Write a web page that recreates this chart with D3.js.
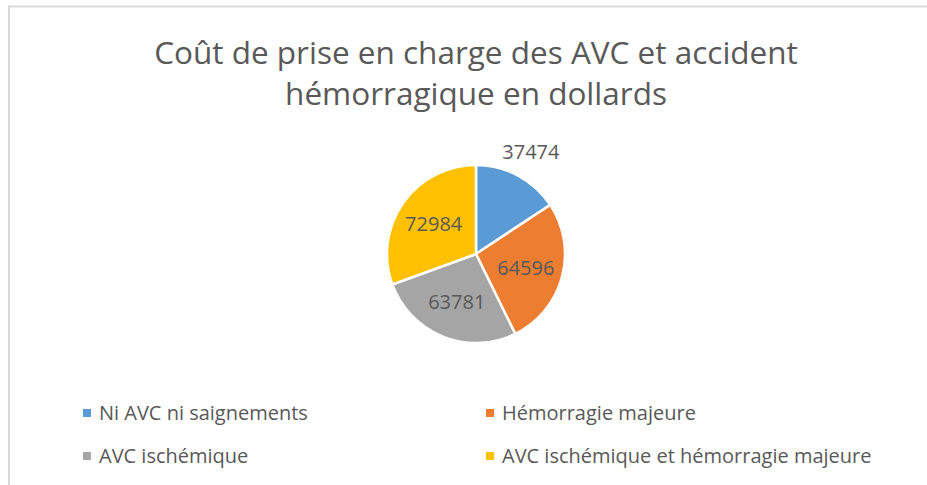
<!DOCTYPE html>
<html>
<head>
<meta charset="utf-8">
<script src="https://cdn.jsdelivr.net/npm/d3@7"></script>
<style>
  body { margin: 0; background: #fff; }
  text { font-family: "Open Sans", sans-serif; fill: #595959; }
</style>
</head>
<body>
<div id="chart"></div>
<script>
let w = 927;
let h = 485;

// data
let categories = ["Ni AVC ni saignements", "Hémorragie majeure", "AVC ischémique", "AVC ischémique et hémorragie majeure"];
let costs = [37474, 64596, 63781, 72984];
let colors = ["#5B9BD5", "#ED7D31", "#A5A5A5", "#FFC000"];
let titleLines = ["Coût de prise en charge des AVC et accident", "hémorragique en dollards"];

let svg = d3.select("#chart").append("svg")
  .attr("width", w)
  .attr("height", h);

// chart frame (only left and top edges show in the crop)
svg.append("path")
  .attr("d", "M9,485 V6.5 H927")
  .attr("fill", "none")
  .attr("stroke", "#d9d9d9")
  .attr("stroke-width", 2);

// title
svg.append("g").selectAll("text").data(titleLines).enter()
  .append("text")
    .attr("x", 476)
    .attr("y", (d, i) => 64 + i * 41)
    .attr("text-anchor", "middle")
    .attr("font-size", "31.5px")
    .text(d => d);

// pie
let cx = 476, cy = 254, r = 89;
let pie = d3.pie().sort(null).value(d => d);
let arcs = pie(costs);
let arc = d3.arc().innerRadius(0).outerRadius(r);
let labelArc = d3.arc().innerRadius(r * 0.58).outerRadius(r * 0.58);
let outerArc = d3.arc().innerRadius(r + 27).outerRadius(r + 27);

let pieGroup = svg.append("g").attr("transform", "translate(" + cx + "," + cy + ")");

pieGroup.selectAll("path").data(arcs).enter()
  .append("path")
    .attr("d", arc)
    .attr("fill", (d, i) => colors[i])
    .attr("stroke", "#fff")
    .attr("stroke-width", 2.5);

// labels: first slice is small so its label sits outside
pieGroup.selectAll(".lbl").data(arcs).enter()
  .append("text")
    .attr("class", "lbl")
    .attr("transform", (d, i) => "translate(" + (i == 0 ? outerArc.centroid(d) : labelArc.centroid(d)) + ")")
    .attr("text-anchor", "middle")
    .attr("dy", "0.35em")
    .attr("font-size", "20px")
    .text(d => d.data);

// legend
let legendPos = [[83, 413], [486, 413], [83, 456], [486, 456]];
let legend = svg.append("g").selectAll("g").data(categories).enter()
  .append("g")
    .attr("transform", (d, i) => "translate(" + legendPos[i][0] + "," + legendPos[i][1] + ")");

legend.append("rect")
  .attr("x", 0).attr("y", -4)
  .attr("width", 8).attr("height", 8)
  .attr("fill", (d, i) => colors[i]);

legend.append("text")
  .attr("x", 16)
  .attr("dy", "0.35em")
  .attr("font-size", "20px")
  .text(d => d);
</script>
</body>
</html>
